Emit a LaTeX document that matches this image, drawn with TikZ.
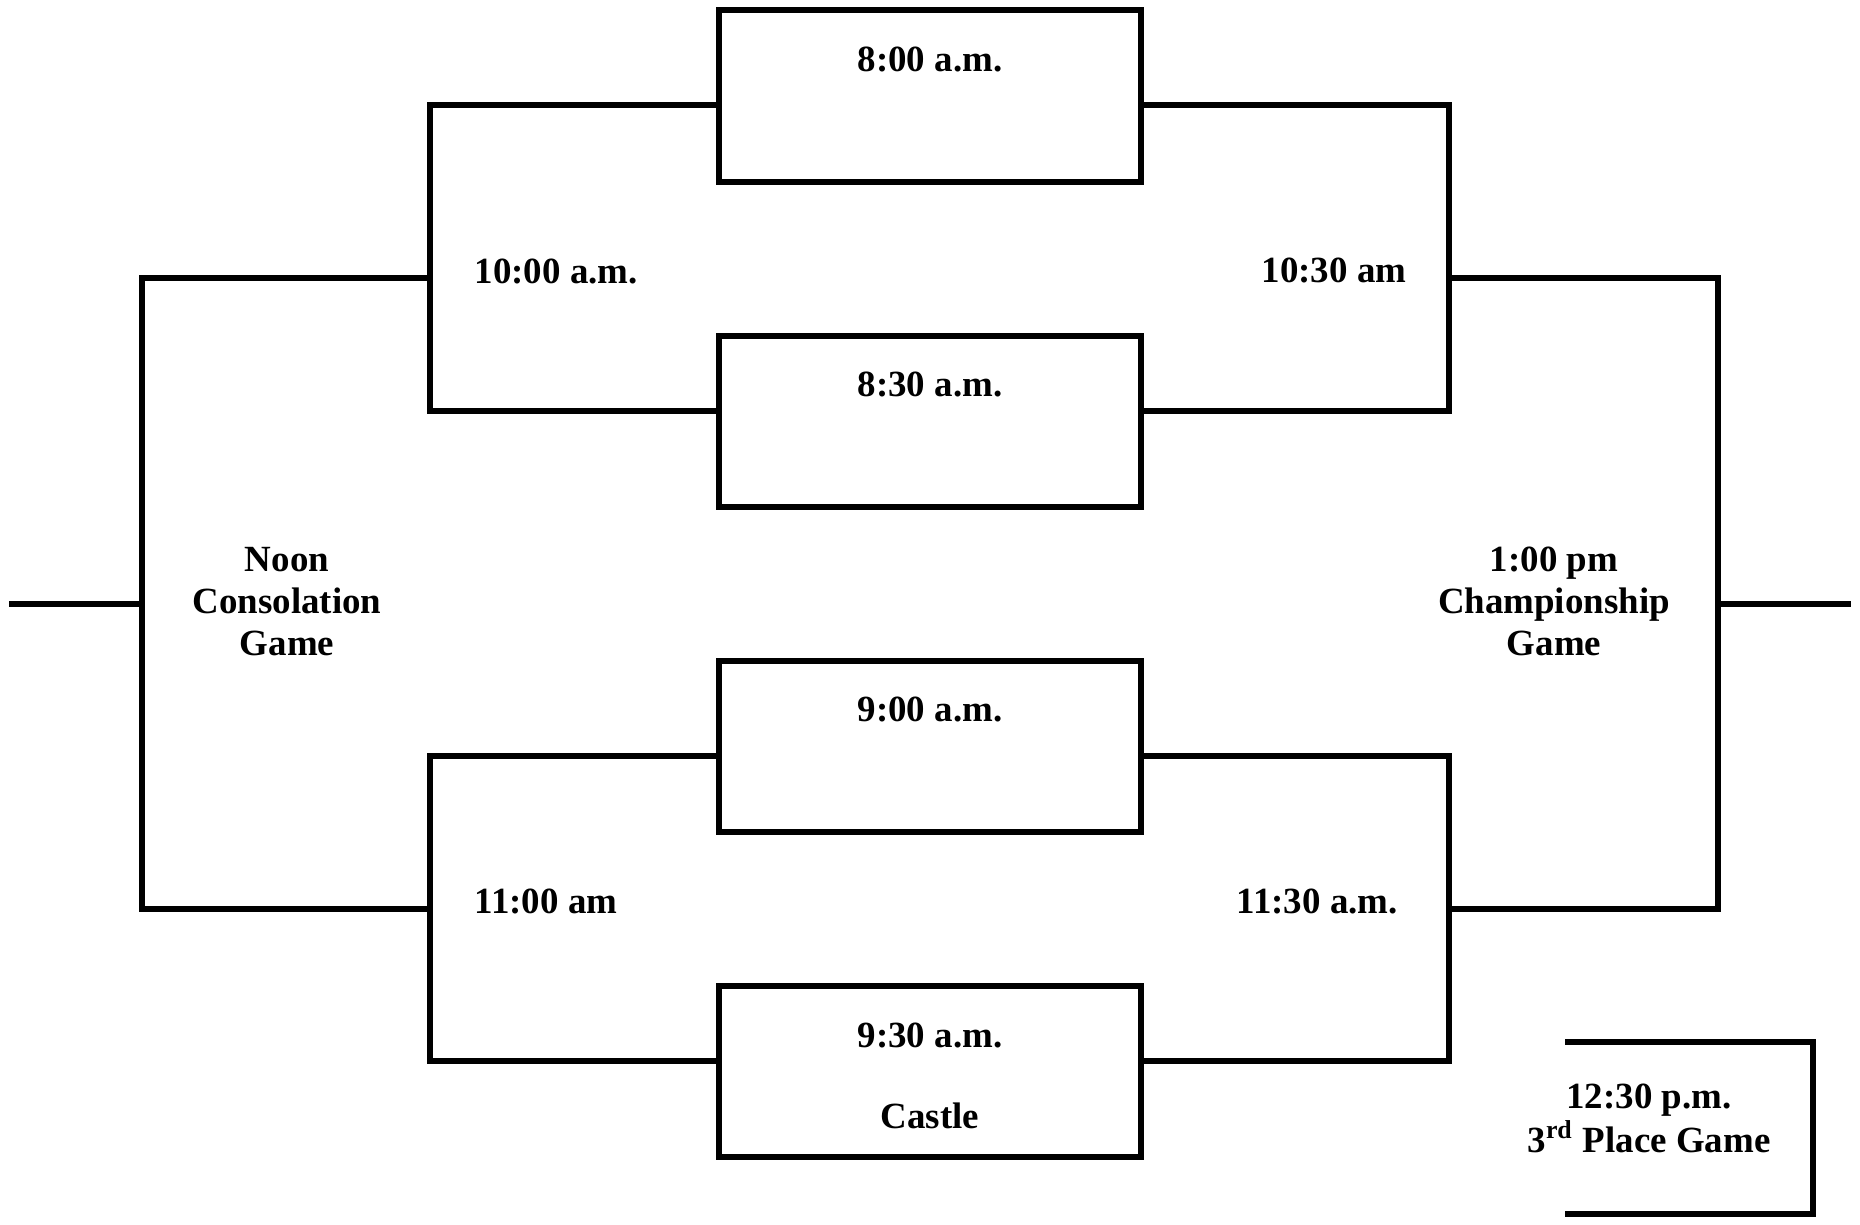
\documentclass[tikz,border=0pt]{standalone}
\usepackage{fontspec}
\setmainfont{Liberation Serif}
\usetikzlibrary{positioning}

\begin{document}
\begin{tikzpicture}[
    x=0.01cm, y=-0.01cm,
    node distance=1.54cm,
    game/.style={draw, line width=0.06cm, outer sep=0pt, inner sep=0pt, minimum width=4.22cm, minimum height=1.71cm},
    time/.style={font=\bfseries\fontsize{10.5}{11.5}\selectfont, inner sep=0pt, align=center},
    wire/.style={line width=0.06cm}
  ]
  \useasboundingbox (0,0) rectangle (1860,1225);

  % first round games
  \node[game] (g800) at (930,96) {};
  \node[game, below=of g800] (g830) {};
  \node[game, below=of g830] (g900) {};
  \node[game, below=of g900] (g930) {};

  \node[time, anchor=base] (t800) at ([yshift=-0.61cm]g800.north) {8:00 a.m.};
  \node[time, anchor=base] (t830) at ([yshift=-0.61cm]g830.north) {8:30 a.m.};
  \node[time, anchor=base] (t900) at ([yshift=-0.61cm]g900.north) {9:00 a.m.};
  \node[time, anchor=base] (t930) at ([yshift=-0.61cm]g930.north) {9:30 a.m.};
  \node[time, anchor=base] (castle) at ([yshift=-1.42cm]g930.north) {Castle};

  % bracket joints
  \coordinate (s1a) at (430,105);
  \coordinate (s1b) at (430,411);
  \coordinate (s1) at (430,278);
  \coordinate (s2a) at (430,756);
  \coordinate (s2b) at (430,1061);
  \coordinate (s2) at (430,909);
  \coordinate (r1a) at (1449,105);
  \coordinate (r1b) at (1449,411);
  \coordinate (r1) at (1449,278);
  \coordinate (r2a) at (1449,756);
  \coordinate (r2b) at (1449,1061);
  \coordinate (r2) at (1449,909);
  \coordinate (cons) at (142,604);
  \coordinate (consend) at (9,604);
  \coordinate (champ) at (1718,604);
  \coordinate (champend) at (1851,604);
  \coordinate (thirda) at (1565,1042);
  \coordinate (thirdb) at (1565,1214);
  \coordinate (thirdturn) at (1813,1128);

  % second round
  \draw[wire] (g800.west |- s1a) -| (s1b) -- (g830.west |- s1b);
  \draw[wire] (g900.west |- s2a) -| (s2b) -- (g930.west |- s2b);
  \draw[wire] (g800.east |- r1a) -| (r1b) -- (g830.east |- r1b);
  \draw[wire] (g900.east |- r2a) -| (r2b) -- (g930.east |- r2b);

  % finals
  \draw[wire] (s1) -| (cons) |- (s2);
  \draw[wire] (cons) -- (consend);
  \draw[wire] (r1) -| (champ) |- (r2);
  \draw[wire] (champ) -- (champend);
  \draw[wire] (thirda) -| (thirdturn) |- (thirdb);

  \node[time, anchor=base west] (t1000) at (474,284) {10:00 a.m.};
  \node[time, anchor=base west] (t1030) at (1261,283) {10:30 am};
  \node[time, anchor=base west] (t1100) at (474,914) {11:00 am};
  \node[time, anchor=base west] (t1130) at (1236,914) {11:30 a.m.};

  % base anchor sits on the last line
  \node[time, anchor=base] (noon) at (287,656) {Noon\\[0.5pt]Consolation\\[0.5pt]Game};
  \node[time, anchor=base] (t100) at (1554,656) {1:00 pm\\[0.5pt]Championship\\[0.5pt]Game};
  \node[time, anchor=base] (t1230) at (1649,1152) {12:30 p.m.\\[1pt]3\textsuperscript{rd} Place Game};
\end{tikzpicture}
\end{document}
